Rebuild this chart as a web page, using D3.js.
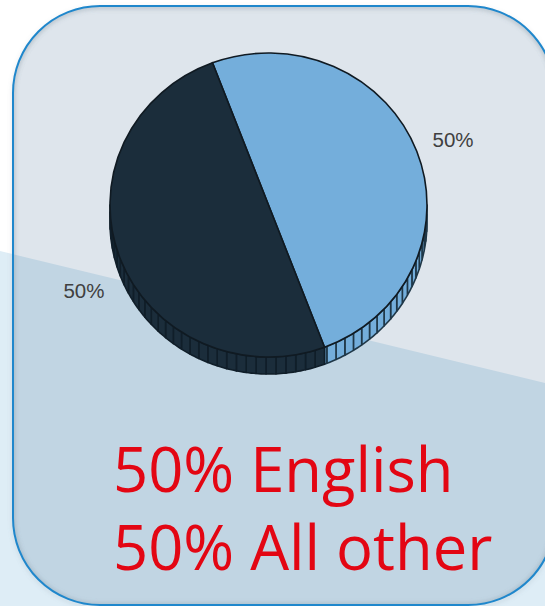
<!DOCTYPE html>
<html>
<head>
<meta charset="utf-8">
<script src="https://cdn.jsdelivr.net/npm/d3@7/dist/d3.min.js"></script>
<style>
html,body{margin:0;padding:0;background:#fff;overflow:hidden}
svg{display:block}
</style>
</head>
<body>
<svg id="chart" width="545" height="606"></svg>
<script>
const categories = ["All other", "English"];
const seriesValues = [50, 50];
const sliceLabels = ["50%", "50%"];
const captionLines = ["50% English", "50% All other"];
const sliceColors = ["#1b2d3b", "#74aedb"];
const ribColors = ["#101e29", "#1f3747"];

const W = 545, H = 606;
const svg = d3.select("#chart");
const defs = svg.append("defs");

const cardPath = "M13,93 A87,87 0 0 1 100,6 L468,6 A87,87 0 0 1 555,93 L555,518 A87,87 0 0 1 468,605 L100,605 A87,87 0 0 1 13,518 Z";
defs.append("clipPath").attr("id", "cardClip").append("path").attr("d", cardPath);
const sh = defs.append("filter").attr("id", "soft").attr("x", "-10%").attr("y", "-10%").attr("width", "120%").attr("height", "120%");
sh.append("feGaussianBlur").attr("stdDeviation", 2);

// Page background: white above the diagonal, pale blue below
const diag = d3.line();
const lineAt = x => 251 + (x * (383 - 251)) / 545;
svg.append("rect").attr("width", W).attr("height", H).attr("fill", "#ffffff");
svg.append("path").attr("fill", "#deedf6")
  .attr("d", diag([[0, lineAt(0)], [W, lineAt(W)], [W, H], [0, H]]) + "Z");

// Card
const card = svg.append("g").attr("clip-path", "url(#cardClip)");
card.append("rect").attr("width", W + 20).attr("height", H).attr("fill", "#dee5ec");
card.append("path").attr("fill", "#c1d5e3")
  .attr("d", diag([[0, lineAt(0)], [W + 20, lineAt(W + 20)], [W + 20, H], [0, H]]) + "Z");
card.append("path").attr("d", cardPath).attr("fill", "none").attr("stroke", "#7a8a96")
  .attr("stroke-opacity", 0.3).attr("stroke-width", 4).attr("filter", "url(#soft)");
svg.append("path").attr("d", cardPath).attr("fill", "none").attr("stroke", "#7a8a96")
  .attr("stroke-opacity", 0.2).attr("stroke-width", 3).attr("filter", "url(#soft)").attr("transform", "translate(0,2)");
svg.append("path").attr("d", cardPath).attr("fill", "none").attr("stroke", "#1f87cc").attr("stroke-width", 2);

// Pie
const cx = 268.5, cy = 205, rx = 158.5, ry = 152, depth = 17;
const startDeg = -20.7;
const pie = d3.pie().sort(null)
  .startAngle(startDeg * Math.PI / 180)
  .endAngle((startDeg + 360) * Math.PI / 180);
const arcs = pie(seriesValues).map((d, i) => ({ ...d, index: i }));
// slices run clockwise from the blue half
const ordered = [
  { ...arcs[1], startAngle: arcs[0].startAngle, endAngle: arcs[0].endAngle, colorIdx: 1, label: sliceLabels[1] },
  { ...arcs[0], startAngle: arcs[1].startAngle, endAngle: arcs[1].endAngle, colorIdx: 0, label: sliceLabels[0] }
];
const sx = d3.scaleLinear().domain([-1, 1]).range([cx - rx, cx + rx]);
const sy = d3.scaleLinear().domain([-1, 1]).range([cy - ry, cy + ry]);
const px = a => sx(Math.sin(a));
const py = a => sy(-Math.cos(a));

const ribStep = 3.6 * Math.PI / 180;
const sideG = svg.append("g");
ordered.forEach(s => {
  const a0 = Math.max(s.startAngle, Math.PI / 2);
  const a1 = Math.min(s.endAngle, 3 * Math.PI / 2);
  const edges = d3.range(a0, a1, ribStep).concat([a1]);
  d3.pairs(edges).forEach(([p, q]) => {
    const pts = d3.range(0, 5).map(k => p + (q - p) * k / 4);
    const top = pts.map(a => [px(a), py(a)]);
    const bottom = pts.slice().reverse().map(a => [px(a), py(a) + depth]);
    sideG.append("path")
      .attr("d", d3.line()(top.concat(bottom)) + "Z")
      .attr("fill", sliceColors[s.colorIdx])
      .attr("stroke", ribColors[s.colorIdx])
      .attr("stroke-width", 1.6)
      .attr("stroke-linejoin", "round");
  });
});

// A large nominal radius keeps the half-circle arcs exact after path rounding
const nominalR = 100000;
const arcGen = d3.arc().innerRadius(0).outerRadius(nominalR);
svg.append("g")
  .attr("transform", `translate(${cx},${cy}) scale(${rx / nominalR},${ry / nominalR})`)
  .selectAll("path").data(ordered).join("path")
  .attr("d", arcGen)
  .attr("fill", d => sliceColors[d.colorIdx])
  .attr("stroke", "#101a22")
  .attr("stroke-width", 1.6)
  .attr("vector-effect", "non-scaling-stroke");

// Slice labels
const labelReach = 1.245;
svg.append("g").selectAll("text").data(ordered).join("text")
  .attr("x", d => { const m = (d.startAngle + d.endAngle) / 2; return cx + (px(m) - cx) * labelReach; })
  .attr("y", d => {
    const m = (d.startAngle + d.endAngle) / 2;
    const off = (py(m) - cy) * labelReach;
    return cy + off + (Math.sin(m) < 0 ? depth + 2 : 1);
  })
  .attr("text-anchor", "middle")
  .attr("dominant-baseline", "central")
  .attr("font-family", "'Liberation Sans', Arial, sans-serif")
  .attr("font-size", 20.5)
  .attr("fill", "#404040")
  .text(d => d.label);

// Caption
svg.append("g").selectAll("text").data(captionLines).join("text")
  .attr("x", 113)
  .attr("y", (d, i) => 492 + i * 78)
  .attr("font-family", "'Open Sans', 'Noto Sans', sans-serif")
  .attr("font-size", 61.5)
  .attr("fill", "#e30613")
  .text(d => d);
</script>
</body>
</html>
